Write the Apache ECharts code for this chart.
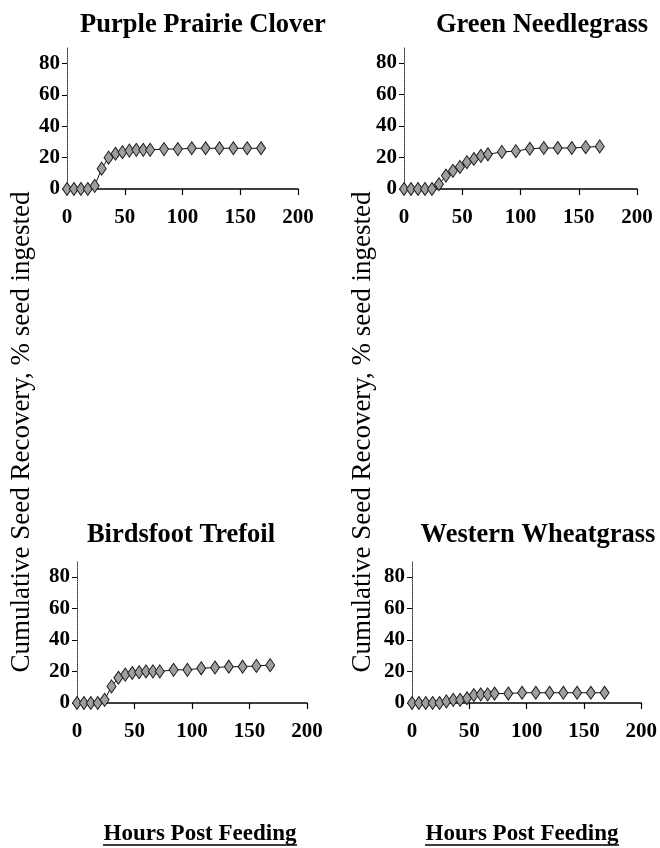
<!DOCTYPE html>
<html>
<head>
<meta charset="utf-8">
<script src="https://cdn.jsdelivr.net/npm/echarts@6/dist/echarts.min.js"></script>
<style>
html,body{margin:0;padding:0;background:#fff;}
#chart{width:660px;height:848px;}
</style>
</head>
<body>
<div id="chart"></div>
<script>
// ---- data ----
const hours = [0, 6, 12, 18, 24, 30, 36, 42, 48, 54, 60, 66, 72, 84, 96, 108, 120, 132, 144, 156, 168];
const purplePrairieClover = [0, 0, 0, 0, 2, 13, 20, 22.5, 23.5, 24.5, 25, 25, 25, 25.5, 25.5, 26, 26, 26, 26, 26, 26];
const greenNeedlegrass = [0, 0, 0, 0, 0, 3, 8.5, 11.5, 14, 17, 19, 21, 22, 23.5, 24, 25.5, 26, 26, 26, 26.5, 27];
const birdsfootTrefoil = [0, 0, 0, 0, 2, 10.5, 16, 18, 19, 19.5, 20, 20, 20, 21, 21, 22, 22.5, 23, 23, 23.5, 24];
const westernWheatgrass = [0, 0, 0, 0, 0, 1, 2, 2, 3, 5, 5.5, 5.5, 6, 6, 6.5, 6.5, 6.5, 6.5, 6.5, 6.5, 6.5];
const panelTitles = ['Purple Prairie Clover', 'Green Needlegrass', 'Birdsfoot Trefoil', 'Western Wheatgrass'];
const xTicks = [0, 50, 100, 150, 200];
const yTicks = [0, 20, 40, 60, 80];
const yAxisTitle = 'Cumulative Seed Recovery, % seed ingested';
const xAxisTitle = 'Hours Post Feeding';

// ---- layout ----
const seriesData = [purplePrairieClover, greenNeedlegrass, birdsfootTrefoil, westernWheatgrass];
const grids = [
  {left: 67, top: 48, width: 231, height: 141},
  {left: 404, top: 47, width: 233, height: 142},
  {left: 77, top: 561, width: 230, height: 142},
  {left: 412, top: 561, width: 233, height: 142}
];
const titlePos = [[198, 7], [537, 7], [176, 517], [533, 517]];
const SERIF = '"Liberation Serif","Times New Roman",serif';

const chart = echarts.init(document.getElementById('chart'), null, {renderer: 'canvas'});

const option = {
  animation: false,
  backgroundColor: '#fff',
  title: panelTitles.map((t, i) => ({
    text: t,
    left: titlePos[i][0],
    top: titlePos[i][1],
    textAlign: 'center',
    textStyle: {fontFamily: SERIF, fontWeight: 'bold', fontSize: 26.5, color: '#000'}
  })),
  grid: grids.map(g => Object.assign({containLabel: false}, g)),
  xAxis: grids.map((g, i) => ({
    type: 'value', gridIndex: i, min: 0, max: 200, interval: 50,
    axisLine: {show: true, onZero: false, lineStyle: {color: '#000', width: 1.5}},
    axisTick: {show: true, inside: false, length: 6, lineStyle: {color: '#000', width: 1.2}, customValues: xTicks},
    axisLabel: {show: true, margin: 18, fontFamily: SERIF, fontWeight: 'bold', fontSize: 21, color: '#000', customValues: xTicks},
    splitLine: {show: false}
  })),
  yAxis: grids.map((g, i) => ({
    type: 'value', gridIndex: i, min: 0, max: 90, interval: 10,
    axisLine: {show: true, onZero: false, lineStyle: {color: '#333', width: 1, type: [1, 1]}},
    axisTick: {show: true, inside: false, length: 5, lineStyle: {color: '#000', width: 1}, customValues: yTicks},
    axisLabel: {show: true, margin: 7, fontFamily: SERIF, fontWeight: 'bold', fontSize: 21, color: '#000', customValues: yTicks},
    splitLine: {show: false}
  })),
  series: seriesData.map((vals, i) => ({
    type: 'line', xAxisIndex: i, yAxisIndex: i,
    data: hours.map((h, k) => [h, vals[k]]),
    symbol: 'diamond', symbolSize: [9, 13], showAllSymbol: true,
    itemStyle: {color: '#9e9e9e', borderColor: '#1a1a1a', borderWidth: 1},
    lineStyle: {color: '#111', width: 1},
    z: 3
  })),
  graphic: [
    {type: 'text', x: 22, y: 432, rotation: Math.PI / 2, style: {text: yAxisTitle, font: '27px ' + SERIF, fill: '#000', align: 'center', verticalAlign: 'middle'}},
    {type: 'text', x: 363, y: 432, rotation: Math.PI / 2, style: {text: yAxisTitle, font: '27px ' + SERIF, fill: '#000', align: 'center', verticalAlign: 'middle'}},
    {type: 'text', x: 200, y: 834, style: {text: xAxisTitle, font: 'bold 23px ' + SERIF, fill: '#000', align: 'center', verticalAlign: 'middle'}},
    {type: 'text', x: 522, y: 834, style: {text: xAxisTitle, font: 'bold 23px ' + SERIF, fill: '#000', align: 'center', verticalAlign: 'middle'}},
    {type: 'line', shape: {x1: 103, y1: 845, x2: 297, y2: 845}, style: {stroke: '#000', lineWidth: 1.5}},
    {type: 'line', shape: {x1: 425, y1: 845, x2: 619, y2: 845}, style: {stroke: '#000', lineWidth: 1.5}}
  ]
};
chart.setOption(option);
</script>
</body>
</html>
